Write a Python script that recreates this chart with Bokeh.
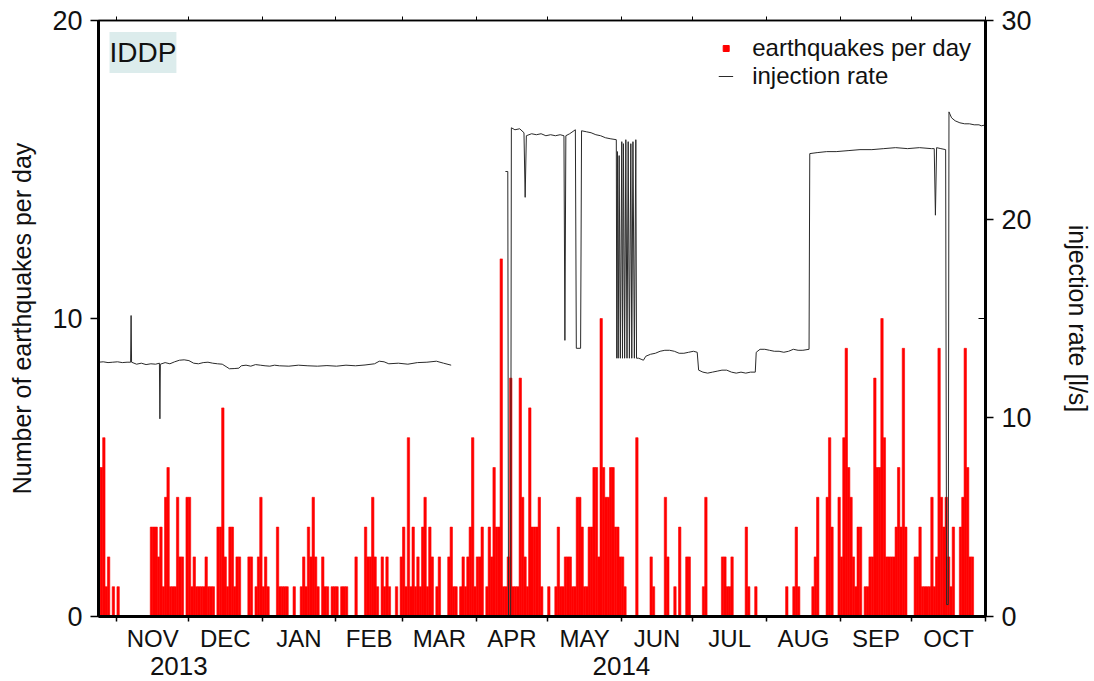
import numpy as np
import pandas as pd
from bokeh.plotting import figure
from bokeh.models import (Range1d, LinearAxis, FixedTicker, Legend, LegendItem,
                          Label, ColumnDataSource, BoxAnnotation)
from bokeh.embed import file_html
from bokeh.resources import INLINE

# ---------------- data ----------------
X_START = "2013-10-24 06:00"
X_END = "2014-11-01 00:00"
FIRST_DAY = "2013-10-24"

# earthquakes per day, one value per day starting at FIRST_DAY
eq_2013_a = [5, 5, 6, 1, 2, 0, 1, 0, 1] + [0] * 13
eq_2013_b = [3, 3, 3, 2, 3, 1, 4, 5, 1, 1,
             1, 4, 2, 2, 0, 4, 4, 1, 2, 1,
             1, 1, 1, 2, 1, 1, 1, 0, 3, 3,
             7, 2, 1, 3, 3, 1, 2, 2, 0, 0,
             0, 2, 2, 0, 1, 2, 4, 1, 2, 1,
             0, 0, 0, 3, 1, 1, 1, 1]
eq_winter = [0, 0, 1, 0, 0, 1, 2, 1, 3, 2,
             4, 2, 1, 0, 2, 1, 1, 0, 1, 1,
             1, 0, 1, 1, 1, 0, 0, 0, 2, 0,
             0, 0, 3, 2, 2, 4, 2, 1, 0, 2,
             1, 2, 1, 0, 0, 1, 0, 2, 3, 1,
             6, 1, 3, 1, 2, 1, 3, 4, 1, 3,
             2, 0, 1, 2, 0, 0, 0, 2, 3, 1,
             1, 0]
eq_spring = [1, 2, 1, 2, 3, 6, 1, 2, 2, 3,
             0, 1, 3, 2, 5, 3, 3, 12, 1, 1,
             2, 8, 1, 1, 1, 8, 4, 2, 1, 7,
             3, 3, 3, 4, 1, 0, 0, 1, 0, 0,
             1, 3, 1, 1, 2, 2, 2, 1, 1, 4,
             4, 3, 1, 1, 3, 3, 5, 5, 2, 10,
             5, 4, 4, 5, 5, 3, 3, 2, 2, 1,
             0, 0, 0, 0, 6, 0, 0, 0, 0]
eq_summer = [0, 2, 1, 0, 0, 0, 0, 4, 2, 0,
             0, 1, 0, 3, 0, 0, 2, 2, 0, 0,
             0, 0, 0, 1, 4, 0, 0, 0, 0, 0,
             0, 2, 2, 1, 1, 2, 0, 0, 0, 0,
             0, 3, 1, 0, 0, 1, 0, 0, 0, 0,
             0, 0, 0, 0, 0, 0, 0, 0, 1, 0,
             0, 1, 3, 1, 0, 0, 0, 0, 0, 1,
             2]
eq_autumn = [4, 0, 0, 0, 4, 6, 3, 0, 0, 4,
             2, 6, 9, 5, 4, 2, 1, 3, 3, 0,
             1, 1, 2, 2, 8, 5, 5, 10, 6, 2,
             2, 2, 2, 3, 5, 3, 9, 3, 0, 0,
             0, 2, 2, 3, 1, 1, 1, 1, 4, 1,
             2, 9, 4, 3, 4, 2, 1, 3, 0, 0,
             3, 4, 9, 5, 2, 2, 0, 0, 0, 0,
             0]
eq_counts = eq_2013_a + eq_2013_b + eq_winter + eq_spring + eq_summer + eq_autumn

# injection rate [l/s]; time as days after X_START, NaN = no data
inj_day = [0, 2, 4, 6, 8, 10, 12, 13.5, 13.7, 13.9, 16, 18, 20, 22, 24, 25.6, 25.8, 26.0,
           28, 30, 32, 34, 36, 38, 40, 42, 44, 46, 48, 50, 52, 54, 55, 57, 59, 60, 62, 64,
           66, 68, 70, 72, 74, 76, 80, 84, 88, 92, 96, 100, 104, 108, 112, 116, 118, 120,
           122, 126, 130, 134, 138, 142, 145, 148.2, 160,
           171.0, 172.0, 172.3, 173.2, 173.5, 175, 177, 178.8, 179.3, 179.8, 182, 184, 186,
           188, 190, 192, 194, 195.6, 196.0, 196.4, 198, 200.4, 200.8, 202.6, 203.0, 205,
           207, 209, 211, 213, 215, 217.6,
           217.8, 218.1, 218.4, 218.8, 219.3, 219.9, 220.2, 220.6, 221.1, 221.6, 222.1,
           222.6, 223.1, 223.7, 224.1, 224.6, 225.2, 225.8, 226.1,
           227, 228, 229, 230, 232, 234, 236, 238, 240, 242, 244, 246, 248, 250, 251.6,
           252.2, 254, 256, 258, 260, 262, 264, 266, 268, 270, 272, 274, 276.0, 276.4, 278,
           280, 282, 284, 286, 288, 290, 292, 294, 296, 298.6, 298.9, 302, 306, 310, 315,
           320, 325, 330, 335, 340, 345, 350, 351.2, 351.7, 352.2, 354, 356.0, 356.4,
           357.1, 357.4, 358.5, 360, 362, 364, 366, 368, 370, 371, 373]
inj_rate = [12.8, 12.82, 12.78, 12.8, 12.82, 12.78, 12.8, 12.8, 15.15, 12.8, 12.7, 12.75,
            12.68, 12.72, 12.7, 12.75, 9.95, 12.7,
            12.78, 12.72, 12.82, 12.9, 12.92, 12.88, 12.75, 12.72, 12.78, 12.8, 12.75,
            12.72, 12.7, 12.55, 12.47, 12.48, 12.5, 12.62, 12.65, 12.6,
            12.68, 12.65, 12.62, 12.6, 12.65, 12.62, 12.6, 12.65, 12.62, 12.6, 12.63,
            12.6, 12.65, 12.62, 12.66, 12.72, 12.85, 12.82,
            12.72, 12.75, 12.7, 12.78, 12.8, 12.85, 12.75, 12.65, np.nan,
            22.4, 22.4, 0.0, 0.0, 24.6, 24.5, 24.55, 24.35, 21.1, 24.2, 24.3, 24.25, 24.3,
            24.2, 24.25, 24.2, 24.25, 24.2, 13.9, 24.2, 24.3, 24.5, 13.5, 13.5, 24.45, 24.4,
            24.35, 24.25, 24.2, 24.1, 24.05, 24.0,
            13.0, 23.4, 13.0, 23.2, 13.0, 23.9, 13.0, 23.8, 13.0, 24.0, 13.0,
            23.9, 13.0, 23.8, 13.0, 23.9, 13.0, 24.0, 13.0,
            13.0, 12.95, 12.9, 13.1, 13.2, 13.25, 13.35, 13.4, 13.4, 13.35, 13.25, 13.25,
            13.3, 13.35, 13.3,
            12.4, 12.3, 12.25, 12.3, 12.35, 12.4, 12.4, 12.3, 12.25, 12.3, 12.25, 12.3,
            12.3, 13.3, 13.45,
            13.45, 13.4, 13.35, 13.35, 13.3, 13.35, 13.45, 13.4, 13.4, 13.45, 23.3, 23.35,
            23.4, 23.4, 23.45,
            23.5, 23.5, 23.55, 23.6, 23.55, 23.6, 23.55, 23.55, 20.2, 23.6, 23.55, 23.5,
            0.6, 0.6, 25.4, 25.1, 24.95, 24.85, 24.8, 24.8, 24.75, 24.75, 24.7, 24.75]

month_names = ["NOV", "DEC", "JAN", "FEB", "MAR", "APR", "MAY", "JUN", "JUL", "AUG",
               "SEP", "OCT"]
month_starts = ["2013-11-01", "2013-12-01", "2014-01-01", "2014-02-01", "2014-03-01",
                "2014-04-01", "2014-05-01", "2014-06-01", "2014-07-01", "2014-08-01",
                "2014-09-01", "2014-10-01", "2014-11-01"]
year_labels = ["2013", "2014"]
year_label_dates = ["2013-11-27", "2014-06-01"]
year_boundary = "2014-01-01"

left_ticks = [0, 10, 20]
right_ticks = [0, 10, 20, 30]


# ---------------- helpers ----------------
def to_ms(t):
    return float(pd.Timestamp(t).value // 10**6)


DAY_MS = 86400000.0
FONT = "Liberation Sans"

days = pd.date_range(FIRST_DAY, periods=len(eq_counts), freq="D") + pd.Timedelta(hours=12)
bar_src = ColumnDataSource(dict(x=days, top=eq_counts))

t0 = pd.Timestamp(X_START)
inj_t = [t0 + pd.to_timedelta(d, unit="D") for d in inj_day]
inj_src = ColumnDataSource(dict(x=inj_t, y=inj_rate))

ms_starts = [to_ms(m) for m in month_starts]
ms_mid = [(a + b) / 2.0 for a, b in zip(ms_starts[:-1], ms_starts[1:])]
ms_mid = [float(round(v)) for v in ms_mid]

# ---------------- figure ----------------
p = figure(width=1094, height=681, x_axis_type="datetime",
           x_range=Range1d(to_ms(X_START), to_ms(X_END)), y_range=Range1d(0, 20),
           output_backend="svg", toolbar_location=None,
           min_border_left=98, min_border_right=106, min_border_top=20,
           min_border_bottom=65)
p.extra_y_ranges = {"inj": Range1d(0, 30)}
p.xgrid.visible = False
p.ygrid.visible = False
p.outline_line_color = "black"
p.outline_line_width = 1.5
p.background_fill_color = "white"
p.border_fill_color = "white"

bars = p.vbar(x="x", top="top", width=DAY_MS, source=bar_src, fill_color="#ff0000",
              line_color="#ff0000", line_width=0.6)
inj_line = p.line(x="x", y="y", source=inj_src, y_range_name="inj",
                  line_color="#2a2a2a", line_width=1)
# legend proxy (no visible data point)
legend_sq = p.scatter(x=[np.nan], y=[np.nan], marker="square", size=8,
                      fill_color="#ff0000", line_color="#ff0000")

# bottom axis: month names centred, month-start ticks
xa = p.xaxis[0]
xa.ticker = FixedTicker(ticks=ms_mid, minor_ticks=ms_starts)
xa.major_label_overrides = {m: n for m, n in zip(ms_mid, month_names)}
xa.major_tick_out = 0
xa.major_tick_in = 0
xa.minor_tick_out = 5
xa.minor_tick_in = 0
xa.minor_tick_line_color = "black"
xa.minor_tick_line_width = 1.5
xa.axis_line_width = 3
xa.axis_line_color = "black"
xa.major_label_text_font = FONT
xa.major_label_text_font_size = "24px"
xa.major_label_text_color = "#111111"
xa.major_label_standoff = 3

ms_years = [to_ms(d) for d in year_label_dates]
ya = LinearAxis(ticker=FixedTicker(ticks=ms_years),
                major_label_overrides={m: n for m, n in zip(ms_years, year_labels)},
                axis_line_color=None, major_tick_line_color=None,
                minor_tick_line_color=None, major_tick_out=0, major_tick_in=0,
                major_label_standoff=2, major_label_text_font=FONT,
                major_label_text_font_size="26px", major_label_text_color="#111111")
p.add_layout(ya, "below")

# long tick at the year boundary
jb = to_ms(year_boundary)
p.add_layout(BoxAnnotation(left=jb - 0.3 * DAY_MS, right=jb + 0.3 * DAY_MS,
                           bottom=-0.32, top=0, fill_color="black", fill_alpha=1,
                           line_color=None))

# top axis: only month ticks
ta = LinearAxis(ticker=FixedTicker(ticks=[], minor_ticks=ms_starts),
                minor_tick_out=4, minor_tick_in=0, major_tick_out=0, major_tick_in=0,
                minor_tick_line_color="black", axis_line_color="black",
                axis_line_width=1.5, major_label_text_font_size="0px")
p.add_layout(ta, "above")

# left axis
la = p.yaxis[0]
la.ticker = FixedTicker(ticks=left_ticks)
la.major_tick_out = 8
la.major_tick_in = 0
la.major_tick_line_width = 1.5
la.axis_line_width = 3
la.major_label_text_font = FONT
la.major_label_text_font_size = "27px"
la.major_label_text_color = "#111111"
la.major_label_standoff = 8
la.axis_label = "Number of earthquakes per day"
la.axis_label_text_font = FONT
la.axis_label_text_font_size = "25px"
la.axis_label_text_font_style = "normal"
la.axis_label_text_color = "#111111"
la.axis_label_standoff = 13

# right axis
ra = LinearAxis(y_range_name="inj", ticker=FixedTicker(ticks=right_ticks, minor_ticks=[15]),
                major_tick_out=8, major_tick_in=0, minor_tick_in=7, minor_tick_out=0,
                major_tick_line_width=1.5, minor_tick_line_color="black",
                axis_line_width=3, major_label_text_font=FONT,
                major_label_text_font_size="27px", major_label_text_color="#111111",
                major_label_standoff=8,
                axis_label="injection rate [l/s]", axis_label_text_font=FONT,
                axis_label_text_font_size="25px", axis_label_text_font_style="normal",
                axis_label_text_color="#111111", axis_label_standoff=29)
p.add_layout(ra, "right")

# legend
legend = Legend(items=[LegendItem(label="earthquakes per day", renderers=[legend_sq]),
                       LegendItem(label="injection rate", renderers=[inj_line])],
                location="top_right", border_line_color=None, background_fill_alpha=0,
                label_text_font=FONT, label_text_font_size="24px",
                label_text_color="#111111", glyph_width=15, glyph_height=20,
                label_standoff=19, spacing=-2, padding=4, margin=14)
p.add_layout(legend)

# station label
p.add_layout(Label(x=to_ms("2013-10-28 21:00"), y=18.93, text="IDDP",
                   text_font=FONT, text_font_size="28px", text_baseline="middle",
                   text_color="#111111", background_fill_color="#dcecec",
                   padding=(0, 5)))

open("out.html", "w").write(file_html(p, INLINE))
